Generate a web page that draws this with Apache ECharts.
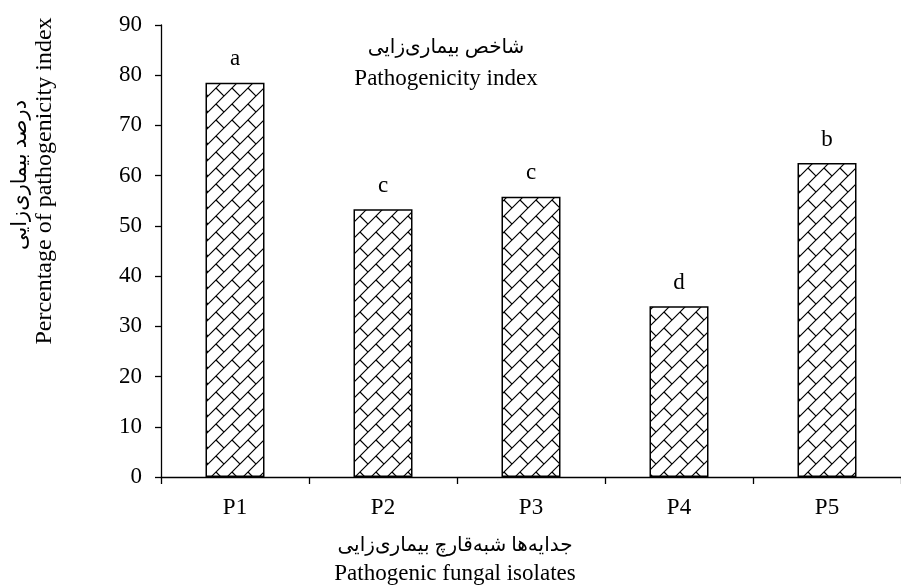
<!DOCTYPE html>
<html>
<head>
<meta charset="utf-8">
<script src="https://cdn.jsdelivr.net/npm/echarts@6/dist/echarts.min.js"></script>
<style>html,body{margin:0;padding:0;background:#fff}#c{width:901px;height:585px}</style>
</head>
<body>
<div id="c"></div>
<script>
var categories = ['P1', 'P2', 'P3', 'P4', 'P5'];
var values = [78.5, 53.3, 55.8, 34.0, 62.5];
var letters = ['a', 'c', 'c', 'd', 'b'];
var yTicks = [0, 10, 20, 30, 40, 50, 60, 70, 80, 90];

var FONT = '"Liberation Serif", "DejaVu Serif", "DejaVu Sans", serif';

function makePattern() {
  var s = 16;
  var cv = document.createElement('canvas');
  cv.width = s; cv.height = s;
  var ctx = cv.getContext('2d');
  ctx.fillStyle = '#fff';
  ctx.fillRect(0, 0, s, s);
  ctx.strokeStyle = '#000';
  ctx.lineWidth = 1.2;
  ctx.beginPath();
  ctx.moveTo(-2, s + 2); ctx.lineTo(s + 2, -2);
  ctx.moveTo(s / 2, s / 2); ctx.lineTo(s + 1, s + 1);
  ctx.moveTo(-2, 2); ctx.lineTo(2, -2);
  ctx.moveTo(s - 2, s + 2); ctx.lineTo(s + 2, s - 2);
  ctx.stroke();
  return cv;
}

var chart = echarts.init(document.getElementById('c'), null, {renderer: 'canvas'});
var option = {
  animation: false,
  backgroundColor: '#fff',
  grid: {left: 161, top: 25, width: 750, height: 452},
  xAxis: {
    type: 'category',
    data: categories,
    axisLine: {lineStyle: {color: '#000', width: 1.3}},
    axisTick: {show: true, length: 7, lineStyle: {color: '#000', width: 1.3}},
    axisLabel: {color: '#000', fontFamily: FONT, fontSize: 23, margin: 19}
  },
  yAxis: {
    type: 'value',
    min: yTicks[0],
    max: yTicks[yTicks.length - 1],
    interval: 10,
    splitLine: {show: false},
    axisLine: {show: true, lineStyle: {color: '#000', width: 1.3}},
    axisTick: {show: true, length: 6, lineStyle: {color: '#000', width: 1.3}},
    axisLabel: {color: '#000', fontFamily: FONT, fontSize: 23, margin: 19}
  },
  series: [{
    type: 'bar',
    data: values,
    barWidth: 59,
    itemStyle: {
      color: {image: makePattern(), repeat: 'repeat'},
      borderColor: '#000',
      borderWidth: 1.5
    },
    label: {
      show: true,
      position: 'top',
      distance: 12,
      color: '#000',
      fontFamily: FONT,
      fontSize: 23,
      formatter: function (p) { return letters[p.dataIndex]; }
    }
  }],
  graphic: [
    {type: 'text', x: 446, y: 48, style: {text: 'شاخص بیماری‌زایی', font: '20px ' + FONT, fill: '#000', textAlign: 'center', textVerticalAlign: 'middle'}},
    {type: 'text', x: 446, y: 79, style: {text: 'Pathogenicity index', font: '23px ' + FONT, fill: '#000', textAlign: 'center', textVerticalAlign: 'middle'}},
    {type: 'text', x: 455, y: 546, style: {text: 'جدایه‌ها شبه‌قارچ بیماری‌زایی', font: '20px ' + FONT, fill: '#000', textAlign: 'center', textVerticalAlign: 'middle'}},
    {type: 'text', x: 455, y: 574, style: {text: 'Pathogenic fungal isolates', font: '23px ' + FONT, fill: '#000', textAlign: 'center', textVerticalAlign: 'middle'}},
    {type: 'text', x: 20, y: 175, rotation: Math.PI / 2, style: {text: 'درصد بیماری‌زایی', font: '21px ' + FONT, fill: '#000', textAlign: 'center', textVerticalAlign: 'middle'}},
    {type: 'text', x: 45, y: 181, rotation: Math.PI / 2, style: {text: 'Percentage of pathogenicity index', font: '24px ' + FONT, fill: '#000', textAlign: 'center', textVerticalAlign: 'middle'}}
  ]
};
chart.setOption(option);
</script>
</body>
</html>
